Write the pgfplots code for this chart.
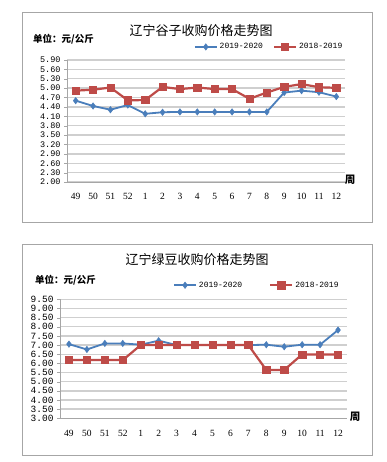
\documentclass[border=0pt]{standalone}
\usepackage{fontspec}
\setmainfont{Liberation Serif}
\newfontfamily\cjk{Noto Sans CJK SC}
\newfontfamily\mono{Liberation Mono}
\usepackage{pgfplots}
\usepackage{pgfplotstable}
\pgfplotsset{compat=1.18}
\definecolor{bl}{HTML}{4A7EBB}
\definecolor{rd}{HTML}{BE4B48}
\definecolor{gridc}{HTML}{CFCFCF}
\definecolor{framec}{HTML}{A6A6A6}

\pgfplotstableread{
x b r
0 4.60 4.92
1 4.43 4.95
2 4.31 5.02
3 4.46 4.61
4 4.18 4.62
5 4.23 5.04
6 4.24 4.97
7 4.24 5.02
8 4.24 4.97
9 4.24 4.97
10 4.24 4.66
11 4.24 4.86
12 4.86 5.04
13 4.92 5.13
14 4.87 5.03
15 4.73 5.01
}\guzi

\pgfplotstableread{
x b r
0 7.05 6.18
1 6.76 6.18
2 7.09 6.18
3 7.09 6.18
4 7.02 7.00
5 7.24 7.00
6 7.00 7.00
7 7.00 7.00
8 7.00 7.00
9 7.00 7.00
10 7.00 7.00
11 7.02 5.64
12 6.91 5.64
13 7.02 6.49
14 7.02 6.49
15 7.82 6.49
}\lvdou

\pgfplotsset{
  mychart/.style={
    scale only axis,
    anchor=south west,
    xmin=-0.5, xmax=15.5,
    xtick={0,...,15},
    xticklabels={49,50,51,52,1,2,3,4,5,6,7,8,9,10,11,12},
    xtick style={draw=none},
    xticklabel style={font=\fontsize{9.5}{10}\selectfont, yshift=-5pt},
    axis x line*=bottom,
    axis y line*=left,
    axis line style={-, draw=framec, line width=0.8pt},
    ymajorgrids=true,
    grid style={draw=gridc, line width=1.4pt},
    tick align=outside,
    major tick length=3pt,
    ytick style={draw=framec},
    yticklabel style={/pgf/number format/fixed,/pgf/number format/fixed zerofill,/pgf/number format/precision=2},
    /pgf/number format/assume math mode=true,
    legend columns=2,
    legend style={draw=none, fill=none, font=\mono\fontsize{8}{9}\selectfont, inner sep=0pt, row sep=0pt},
    legend cell align=left,
    legend image code/.code={\draw[mark repeat=2,mark phase=2,##1] plot coordinates {(0pt,0pt) (11pt,0pt) (22pt,0pt)};},
  },
  bser/.style={color=bl, line width=1.8pt, mark=diamond*, mark size=3.2pt, mark options={fill=bl, draw=bl, line width=0.5pt}},
  rser/.style={color=rd, line width=2.2pt, mark=square*, mark size=3.6pt, mark options={fill=rd, draw=rd, line width=0.5pt}},
}

\begin{document}
\begin{tikzpicture}
\useasboundingbox[fill=white] (0pt,0pt) rectangle (387pt,462pt);
% frames
\draw[framec, line width=0.9pt] (22pt,450pt) rectangle (372pt,240pt);
\draw[framec, line width=0.9pt] (22pt,218pt) rectangle (372pt,7pt);

% chart 1
\node[font=\cjk\fontsize{13}{14}\selectfont] at (201pt,431pt) {辽宁谷子收购价格走势图};
\node[anchor=west, font=\cjk\bfseries\fontsize{9.5}{10}\selectfont, inner sep=0pt] at (33pt,423pt) {单位：元/公斤};
\node[font=\cjk\bfseries\fontsize{10.5}{11}\selectfont, inner sep=0pt] at (350pt,282.5pt) {周};
\begin{axis}[mychart,
  at={(67pt,280pt)}, width=278pt, height=122pt,
  ymin=2, ymax=5.9, ytick={2.0,2.3,...,5.95},
  yticklabel style={font=\mono\fontsize{8.5}{9}\selectfont},
  legend style={at={(0.727,1.107)}, anchor=center},
  /tikz/every even column/.append style={column sep=8pt},
]
\addplot[bser] table[x=x,y=b]{\guzi};
\addlegendentry{2019-2020}
\addplot[rser] table[x=x,y=r]{\guzi};
\addlegendentry{2018-2019}
\end{axis}

% chart 2
\node[font=\cjk\fontsize{13}{14}\selectfont] at (197pt,202pt) {辽宁绿豆收购价格走势图};
\node[anchor=west, font=\cjk\bfseries\fontsize{9.5}{10}\selectfont, inner sep=0pt] at (35pt,182pt) {单位：元/公斤};
\node[font=\cjk\bfseries\fontsize{10.5}{11}\selectfont, inner sep=0pt] at (355pt,45pt) {周};
\begin{axis}[mychart,
  at={(60pt,43.7pt)}, width=287pt, height=119pt,
  ymin=3, ymax=9.5, ytick={3.0,3.5,...,9.55},
  yticklabel style={font=\mono\fontsize{9.5}{10}\selectfont},
  legend style={at={(0.686,1.118)}, anchor=center},
  /tikz/every even column/.append style={column sep=25pt},
]
\addplot[bser] table[x=x,y=b]{\lvdou};
\addlegendentry{2019-2020}
\addplot[rser] table[x=x,y=r]{\lvdou};
\addlegendentry{2018-2019}
\end{axis}
\end{tikzpicture}
\end{document}
